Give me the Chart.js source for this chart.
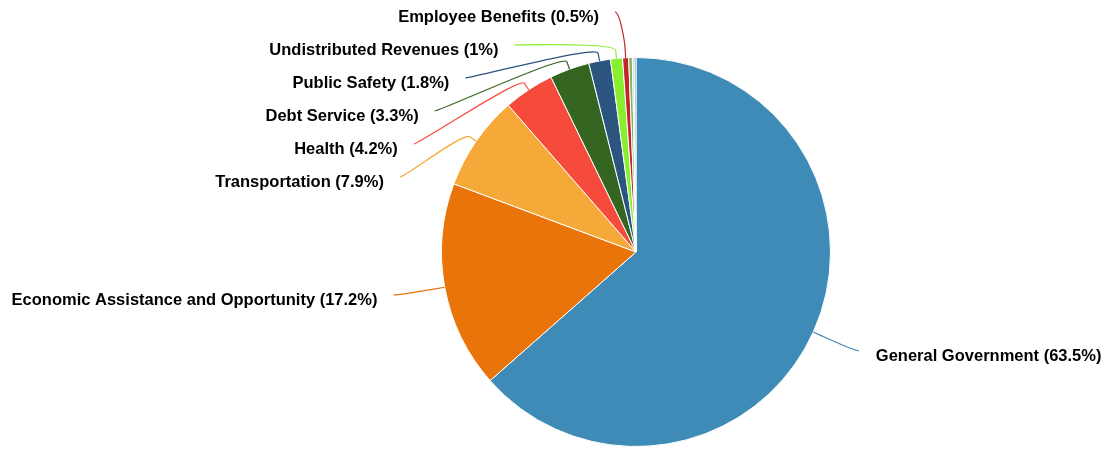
<!DOCTYPE html>
<html>
<head>
<meta charset="utf-8">
<script src="https://cdn.jsdelivr.net/npm/chart.js@4.4.1/dist/chart.umd.min.js"></script>
<style>
  html, body { margin: 0; padding: 0; background: #fff; }
  #wrap { width: 1108px; height: 449px; position: relative; }
</style>
</head>
<body>
<div id="wrap"><canvas id="chartPie"></canvas></div>
<script>
const categories = [
  'General Government',
  'Economic Assistance and Opportunity',
  'Transportation',
  'Health',
  'Debt Service',
  'Public Safety',
  'Undistributed Revenues',
  'Employee Benefits',
  'Other 1',
  'Other 2',
  'Other 3'
];
const shares = [63.5, 17.2, 7.9, 4.2, 3.3, 1.8, 1, 0.5, 0.3, 0.15, 0.15];
const sliceColors = [
  '#3d8bb6', '#e8740a', '#f6a838', '#f64b3a', '#346521', '#2b547e',
  '#88ee2d', '#c1262b', '#8db452', '#a9c9dc', '#5aa3d0'
];
const minLabelShare = 0.5;

const labelDistance = 32;   // label circle beyond the pie edge
const breakOffset = 8;      // where the connector bends
const lineGap = 21;         // connector start from label circle
const textGap = 38;         // text edge from label circle
const rowStep = 33;

// spread crowded labels apart, keeping groups centred on their targets
function distribute(list, minY, maxY, step) {
  list.sort((a, b) => a.target - b.target);
  let groups = list.map(it => [it]);
  const place = g => {
    const mean = g.reduce((s, it) => s + it.target, 0) / g.length;
    let top = mean - (g.length - 1) * step / 2;
    top = Math.min(Math.max(top, minY), maxY - (g.length - 1) * step);
    g.top = top;
  };
  let merged = true;
  while (merged) {
    merged = false;
    groups.forEach(place);
    for (let k = 0; k < groups.length - 1; k++) {
      const a = groups[k], b = groups[k + 1];
      if (a.top + a.length * step > b.top) {
        groups.splice(k, 2, a.concat(b));
        merged = true;
        break;
      }
    }
  }
  groups.forEach(g => g.forEach((it, j) => { it.y = g.top + j * step; }));
}

const outsideLabels = {
  id: 'outsideLabels',
  afterDatasetsDraw(chart) {
    const ctx = chart.ctx;
    const meta = chart.getDatasetMeta(0);
    const items = [];
    meta.data.forEach((arc, i) => {
      if (shares[i] < minLabelShare) return;
      const p = arc.getProps(['x', 'y', 'startAngle', 'endAngle', 'outerRadius'], true);
      const mid = (p.startAngle + p.endAngle) / 2;
      const R = p.outerRadius + labelDistance;
      items.push({ i, p, mid, R, left: Math.cos(mid) < 0, target: p.y + Math.sin(mid) * (R + 16) + 3 });
    });
    distribute(items.filter(it => it.left), 16, chart.height - 12, rowStep);
    distribute(items.filter(it => !it.left), 16, chart.height - 12, rowStep);

    ctx.save();
    ctx.font = 'bold 16.5px "Liberation Sans", Arial, sans-serif';
    ctx.textBaseline = 'middle';
    items.forEach(it => {
      const { p, mid, R, left, y } = it;
      const dy = y - p.y;
      const x = p.x + (left ? -1 : 1) * Math.sqrt(Math.max(0, R * R - dy * dy));
      const color = sliceColors[it.i];

      const sx = left ? x - lineGap : x + lineGap, sy = y - 4;
      const tx = p.x + Math.cos(mid) * p.outerRadius, ty = p.y + Math.sin(mid) * p.outerRadius;
      const bx = p.x + Math.cos(mid) * (p.outerRadius + breakOffset);
      const by = p.y + Math.sin(mid) * (p.outerRadius + breakOffset);
      ctx.beginPath();
      ctx.moveTo(sx, sy);
      ctx.bezierCurveTo(sx + (left ? 5 : -5), sy, 2 * bx - tx, 2 * by - ty, bx, by);
      ctx.lineTo(tx, ty);
      ctx.strokeStyle = color;
      ctx.lineWidth = 1.2;
      ctx.stroke();

      ctx.fillStyle = '#000';
      ctx.textAlign = left ? 'right' : 'left';
      ctx.fillText(`${categories[it.i]} (${shares[it.i]}%)`, left ? x - textGap + 1 : x + textGap, y + 1.5);
    });
    ctx.restore();
  }
};

new Chart(document.getElementById('chartPie').getContext('2d'), {
  type: 'pie',
  data: {
    labels: categories,
    datasets: [{
      data: shares,
      backgroundColor: sliceColors,
      borderColor: '#ffffff',
      borderWidth: 1
    }]
  },
  options: {
    responsive: true, maintainAspectRatio: false,
    animation: false,
    layout: { padding: { left: 441, right: 277, top: 57, bottom: 2 } },
    plugins: {
      legend: { display: false },
      tooltip: { enabled: false }
    }
  },
  plugins: [outsideLabels]
});
</script>
</body>
</html>
